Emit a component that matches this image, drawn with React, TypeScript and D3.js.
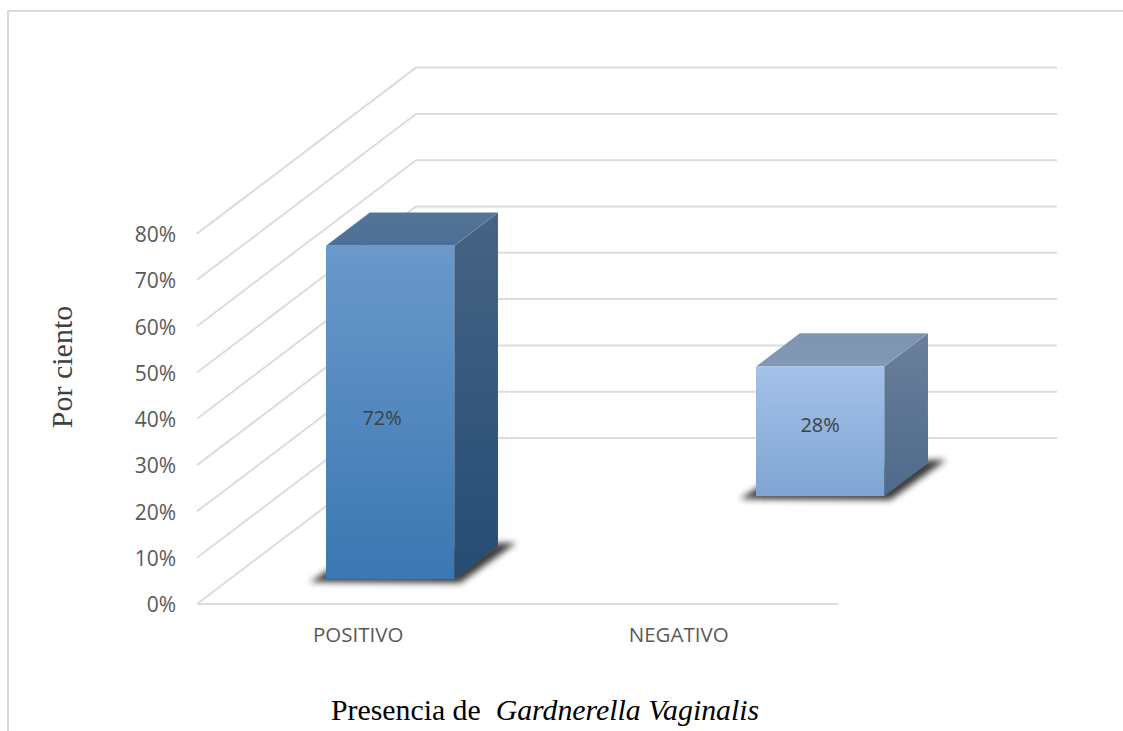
import React, { useEffect, useRef } from "react";
import * as d3 from "d3";

const categories = ["POSITIVO", "NEGATIVO"];
const values = [72, 28];
const tickValues = [0, 10, 20, 30, 40, 50, 60, 70, 80];

// front, top, side gradient stops for each bar
const barColors = [
  { front: ["#6a99ca", "#3b77b2"], top: ["#537498", "#4f7096"], side: ["#466484", "#254c74"] },
  { front: ["#a4c1e9", "#7fa5d3"], top: ["#7e94b0", "#8199b6"], side: ["#6a7f9b", "#4e6a8c"] },
];

const WIDTH = 1123;
const HEIGHT = 731;

const App = () => {
  const svgRef = useRef<SVGSVGElement>(null);

  useEffect(() => {
    const svg = d3.select(svgRef.current);
    svg.selectAll("*").remove();

    // floor front-left corner and the oblique depth vector
    const originX = 197;
    const originY = 604;
    const depthX = 219;
    const depthY = -166;
    const plotWidth = 641;

    const x = d3.scaleBand().domain(categories).range([0, plotWidth]).paddingInner(0.6).paddingOuter(0.3);
    const depth = d3.scaleBand().domain(categories).range([0, 1]).paddingInner(0.6).paddingOuter(0.3);
    const y = d3.scaleLinear().domain([0, 80]).range([0, 370.4]);

    const px = (gx: number, d: number) => originX + gx + d * depthX;
    const py = (v: number, d: number) => originY - y(v) + d * depthY;
    const pt = (gx: number, v: number, d: number): [number, number] => [px(gx, d), py(v, d)];
    const poly = d3.line();

    const defs = svg.append("defs");
    defs.append("filter").attr("id", "blur").attr("x", "-20%").attr("y", "-40%").attr("width", "140%").attr("height", "180%")
      .append("feGaussianBlur").attr("stdDeviation", 3);

    const addGradient = (id: string, stops: string[]) => {
      const g = defs.append("linearGradient").attr("id", id).attr("x1", 0).attr("y1", 0).attr("x2", 0).attr("y2", 1);
      g.append("stop").attr("offset", "0%").attr("stop-color", stops[0]);
      g.append("stop").attr("offset", "100%").attr("stop-color", stops[1]);
    };
    barColors.forEach((c, i) => {
      addGradient(`front${i}`, c.front);
      addGradient(`top${i}`, c.top);
      addGradient(`side${i}`, c.side);
    });

    // outer frame, cropped on the right and bottom
    svg.append("path")
      .attr("d", `M8,${HEIGHT}V11H${WIDTH}`)
      .attr("fill", "none")
      .attr("stroke", "#d9d9d9")
      .attr("stroke-width", 2);

    const grid = svg.append("g").attr("fill", "none").attr("stroke", "#dcdcdc").attr("stroke-width", 2);

    tickValues.forEach((t) => {
      grid.append("path").attr("d", poly([pt(0, t, 0), pt(0, t, 1), pt(plotWidth, t, 1)]));
    });
    grid.append("path").attr("d", poly([pt(0, 0, 0), pt(plotWidth, 0, 0)]));

    // bars
    categories.forEach((c, i) => {
      const x0 = x(c)!;
      const x1 = x0 + x.bandwidth();
      const d0 = depth(c)!;
      const d1 = d0 + depth.bandwidth();
      const v = values[i];
      const g = svg.append("g");

      // soft contact shadow on the floor
      g.append("path")
        .attr("d", poly([
          [px(x0, d0) - 16, py(0, d0) + 3],
          [px(x0, d0) + 4, py(0, d0) - 10],
          [px(x1, d1), py(0, d1) - 3],
          [px(x1, d1) + 18, py(0, d1) - 3],
          [px(x1, d0) + 6, py(0, d0) + 4],
        ]) + "Z")
        .attr("fill", "#262626")
        .attr("opacity", 0.9)
        .attr("filter", "url(#blur)");

      g.append("path")
        .attr("d", poly([pt(x1, v, d0), pt(x1, v, d1), pt(x1, 0, d1), pt(x1, 0, d0)]) + "Z")
        .attr("fill", `url(#side${i})`)
        .attr("stroke", "#ffffff").attr("stroke-opacity", 0.12).attr("stroke-width", 0.5);
      g.append("path")
        .attr("d", poly([pt(x0, v, d0), pt(x0, v, d1), pt(x1, v, d1), pt(x1, v, d0)]) + "Z")
        .attr("fill", `url(#top${i})`)
        .attr("stroke", "#ffffff").attr("stroke-opacity", 0.12).attr("stroke-width", 0.5);
      g.append("rect")
        .attr("x", px(x0, d0))
        .attr("y", py(v, d0))
        .attr("width", x.bandwidth())
        .attr("height", y(v))
        .attr("fill", `url(#front${i})`);

      // data label, nudged by hand to where the reference puts it
      g.append("text")
        .attr("x", px(x0, d0) + x.bandwidth() / 2 + (i === 0 ? -8 : 0))
        .attr("y", py(v / 2, d0) + (i === 0 ? 6 : -6))
        .attr("dy", "0.35em")
        .attr("text-anchor", "middle")
        .attr("font-family", "'Open Sans', sans-serif")
        .attr("font-size", 20)
        .attr("fill", "#404040")
        .text(`${v}%`);
    });

    // tick labels
    svg.append("g")
      .selectAll("text")
      .data(tickValues)
      .join("text")
      .attr("x", originX - 21)
      .attr("y", (t) => py(t, 0) + 1)
      .attr("dy", "0.35em")
      .attr("text-anchor", "end")
      .attr("font-family", "'Open Sans', sans-serif")
      .attr("font-size", 21)
      .attr("fill", "#595959")
      .text((t) => `${t}%`);

    // category labels
    svg.append("g")
      .selectAll("text")
      .data(categories)
      .join("text")
      .attr("x", (c) => originX + x(c)! + x.bandwidth() / 2 + 1)
      .attr("y", 642)
      .attr("text-anchor", "middle")
      .attr("font-family", "'Open Sans', sans-serif")
      .attr("font-size", 20.5)
      .attr("fill", "#595959")
      .text((c) => c);

    // axis titles
    svg.append("text")
      .attr("transform", "translate(72,367) rotate(-90)")
      .attr("text-anchor", "middle")
      .attr("font-family", "'Liberation Serif', serif")
      .attr("font-size", 30)
      .attr("fill", "#404040")
      .text("Por ciento");

    const title = svg.append("text")
      .attr("x", 331)
      .attr("y", 720)
      .attr("font-family", "'Liberation Serif', serif")
      .attr("font-size", 29.8)
      .attr("fill", "#000000")
      .style("white-space", "pre");
    title.append("tspan").text("Presencia de  ");
    title.append("tspan").attr("font-style", "italic").text("Gardnerella Vaginalis");
  }, []);

  return (
    <svg
      ref={svgRef}
      width={WIDTH}
      height={HEIGHT}
      style={{ position: "absolute", left: 0, top: 0, background: "#ffffff" }}
    />
  );
};

export default App;
